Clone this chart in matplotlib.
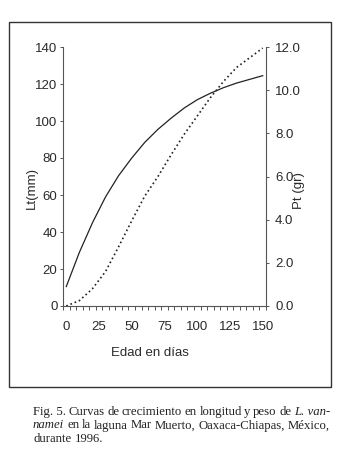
import matplotlib.pyplot as plt
from matplotlib.patches import Rectangle
import numpy as np

# data
dias = [0, 10, 20, 30, 40, 50, 60, 70, 80, 90, 100, 110, 120, 130, 140, 150]
lt_mm = [10.5, 29, 45, 59, 70.5, 80, 88.5, 95.5, 101.5, 107, 111.5, 115, 118, 120.5, 122.5, 124.5]
pt_gr = [0.0, 0.25, 0.8, 1.6, 2.75, 3.95, 5.1, 6.0, 7.0, 7.95, 8.8, 9.65, 10.4, 11.05, 11.5, 11.95]
x_labels = [0, 25, 50, 75, 100, 125, 150]
lt_ticks = [0, 20, 40, 60, 80, 100, 120, 140]
pt_ticks = [0, 2, 4, 6, 8, 10, 12]

W, H = 340, 472
fig = plt.figure(figsize=(W / 100, H / 100), dpi=100)
sans = ['Liberation Sans', 'DejaVu Sans']
serif = ['Liberation Serif', 'DejaVu Serif']
tc = '#2a2a2a'

def fx(px):
    return px / W

def fy(py):
    return 1 - py / H

# outer frame
fig.patches.append(Rectangle((fx(9), fy(387)), fx(331) - fx(9), fy(22) - fy(387),
                             transform=fig.transFigure, fill=False, ec='#333', lw=1.0))

ax = fig.add_axes([fx(63), fy(306), fx(266) - fx(63), fy(47) - fy(306)])
ax2 = ax.twinx()

ax.plot(dias, lt_mm, color='#222', lw=0.9)
ax2.plot(dias, pt_gr, color='#222', lw=1.2, linestyle=(0, (1, 1.7)))

ax.set_xlim(-2.5, 152.5)
ax.set_ylim(0, 140)
ax2.set_ylim(0, 12)

for a in (ax, ax2):
    a.spines['top'].set_visible(False)
    for s in a.spines.values():
        s.set_color('#555')
        s.set_linewidth(0.8)
ax.spines['right'].set_visible(False)
ax2.spines['left'].set_visible(False)
ax2.spines['bottom'].set_visible(False)

ax.set_yticks(lt_ticks)
ax.set_yticklabels([str(v) for v in lt_ticks], fontfamily=sans, fontsize=9.5, color=tc)
ax.tick_params(axis='y', length=2.5, width=0.7, color='#555', pad=1.5)

ax2.set_yticks(pt_ticks)
ax2.set_yticklabels(['%.1f' % v for v in pt_ticks], fontfamily=sans, fontsize=9.5, color=tc)
ax2.tick_params(axis='y', length=2.5, width=0.7, color='#555', pad=4)

ax.set_xticks(x_labels)
ax.set_xticklabels([str(v) for v in x_labels], fontfamily=sans, fontsize=9.5, color=tc)
ax.tick_params(axis='x', which='major', length=0, pad=11)
ax.set_xticks(np.arange(-2.5, 153, 5), minor=True)
ax.tick_params(axis='x', which='minor', length=3, width=0.7, color='#555')

fig.text(fx(32), fy(188), 'Lt(mm)', rotation=90, ha='center', va='center',
         family=sans, fontsize=9.5, color=tc)
fig.text(fx(299), fy(191), 'Pt (gr)', rotation=90, ha='center', va='center',
         family=sans, fontsize=9.5, color=tc)
fig.text(fx(150), fy(353), 'Edad en días', ha='center', va='center',
         family=sans, fontsize=9.5, color=tc)

# caption, justified by hand
caption = [
    [('Fig. 5.', False), ('Curvas', False), ('de', False), ('crecimiento', False), ('en', False),
     ('longitud', False), ('y', False), ('peso', False), ('de', False), ('L. van-', True)],
    [('namei', True), ('en', False), ('la', False), ('laguna', False), ('Mar', False),
     ('Muerto,', False), ('Oaxaca-Chiapas,', False), ('México,', False)],
    [('durante', False), ('1996.', False)],
]
line_y = [412, 425.5, 439]
x0, x1 = 33, 330
renderer = fig.canvas.get_renderer()
for i, words in enumerate(caption):
    texts = []
    for w, it in words:
        t = fig.text(0, fy(line_y[i]), w, family=serif, fontsize=9.2, color='#222',
                     style='italic' if it else 'normal', va='center')
        texts.append(t)
    widths = [t.get_window_extent(renderer).width for t in texts]
    if i < len(caption) - 1:
        gap = (x1 - x0 - sum(widths)) / (len(texts) - 1)
    else:
        gap = 3.5
    x = x0
    for t, wd in zip(texts, widths):
        t.set_x(fx(x))
        x += wd + gap

fig.savefig('out.png', dpi=100)
